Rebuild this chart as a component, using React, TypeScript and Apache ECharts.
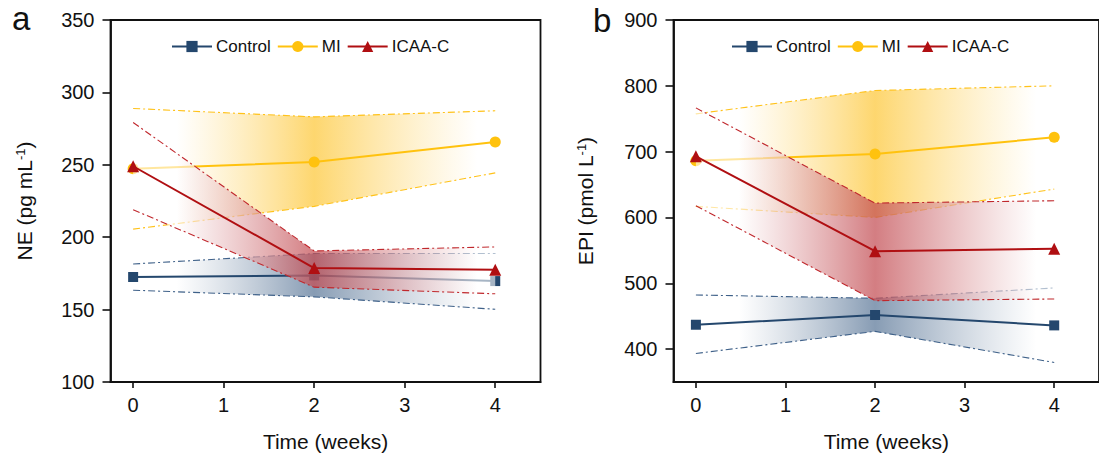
import React, { useEffect, useRef } from "react";
import * as echarts from "echarts";

// ---------- data ----------
const weeks = [0, 2, 4];
const xTicks = [0, 1, 2, 3, 4];
const neTicks = [100, 150, 200, 250, 300, 350];
const epiTicks = [400, 500, 600, 700, 800, 900];
const groups = ["Control", "MI", "ICAA-C"];

// NE (pg mL-1)
const neControl = [172.5, 173.6, 169.7];
const neControlUpper = [181.5, 188.7, 188.7];
const neControlLower = [163.4, 158.8, 150.2];
const neMI = [247.2, 251.9, 265.7];
const neMIUpper = [288.9, 283.1, 287.3];
const neMILower = [205.6, 221.3, 244.4];
const neICAA = [249.0, 178.7, 177.5];
const neICAAUpper = [279.2, 190.5, 193.3];
const neICAALower = [219.0, 165.5, 160.9];

// EPI (pmol L-1)
const epiControl = [437.0, 451.8, 436.0];
const epiControlUpper = [482.2, 477.2, 492.9];
const epiControlLower = [393.4, 426.9, 379.7];
const epiMI = [686.3, 696.4, 721.8];
const epiMIUpper = [757.4, 792.9, 800.0];
const epiMILower = [616.8, 600.0, 643.1];
const epiICAA = [692.9, 548.7, 552.3];
const epiICAAUpper = [766.5, 621.8, 625.4];
const epiICAALower = [617.8, 473.6, 476.1];

// ---------- styles ----------
const FONT = "'Liberation Sans', Arial, Helvetica, sans-serif";
const lineColors: Record<string, string> = {
  Control: "#24476d",
  MI: "#ffc20e",
  "ICAA-C": "#b00f12",
};
const dashColors: Record<string, string> = {
  Control: "#3f6189",
  MI: "#ffc21a",
  "ICAA-C": "#c0282d",
};
const bandCenter: Record<string, string> = {
  Control: "rgba(105,131,161,0.8)",
  MI: "rgba(253,203,70,0.78)",
  "ICAA-C": "rgba(196,80,86,0.74)",
};
const symbols: Record<string, string> = {
  Control: "rect",
  MI: "circle",
  "ICAA-C": "triangle",
};
const symbolSizes: Record<string, number> = {
  Control: 10,
  MI: 11,
  "ICAA-C": 12,
};

function bandGradient(name: string) {
  return new echarts.graphic.LinearGradient(0, 0, 1, 0, [
    { offset: 0, color: "rgba(255,255,255,0.6)" },
    { offset: 0.12, color: "rgba(255,255,255,0.6)" },
    { offset: 0.5, color: bandCenter[name] },
    { offset: 0.95, color: "rgba(255,255,255,0.6)" },
    { offset: 1, color: "rgba(255,255,255,0.6)" },
  ]);
}

function groupSeries(
  name: string,
  mean: number[],
  upper: number[],
  lower: number[],
  axisIdx: number,
  zBase: number
) {
  const pair = (arr: number[]) => weeks.map((w, i) => [w, arr[i]]);
  const dash = {
    color: dashColors[name],
    width: 1.1,
    type: [7, 3, 2, 3],
  };
  return [
    {
      type: "custom",
      name: name + " band",
      xAxisIndex: axisIdx,
      yAxisIndex: axisIdx,
      z: zBase,
      silent: true,
      data: [[weeks[1], mean[1]]],
      renderItem: (_params: any, api: any) => {
        const pts: number[][] = [];
        for (let i = 0; i < weeks.length; i++) pts.push(api.coord([weeks[i], upper[i]]));
        for (let i = weeks.length - 1; i >= 0; i--) pts.push(api.coord([weeks[i], lower[i]]));
        return {
          type: "polygon",
          shape: { points: pts },
          style: { fill: bandGradient(name), stroke: "none" },
        };
      },
    },
    {
      type: "line",
      name: name + " upper",
      xAxisIndex: axisIdx,
      yAxisIndex: axisIdx,
      z: zBase + 1,
      silent: true,
      symbol: "none",
      data: pair(upper),
      lineStyle: dash,
    },
    {
      type: "line",
      name: name + " lower",
      xAxisIndex: axisIdx,
      yAxisIndex: axisIdx,
      z: zBase + 1,
      silent: true,
      symbol: "none",
      data: pair(lower),
      lineStyle: dash,
    },
    {
      type: "line",
      name: name,
      xAxisIndex: axisIdx,
      yAxisIndex: axisIdx,
      z: zBase + 2,
      symbol: symbols[name],
      symbolSize: symbolSizes[name],
      showSymbol: true,
      data: pair(mean),
      lineStyle: { color: lineColors[name], width: 2 },
      itemStyle: { color: lineColors[name] },
    },
  ];
}

function xAxis(gridIndex: number) {
  return {
    type: "value",
    gridIndex,
    min: -0.25,
    max: 4.5,
    name: "Time (weeks)",
    nameLocation: "middle",
    nameGap: 49,
    nameTextStyle: { fontSize: 21, color: "#111", fontFamily: FONT },
    splitLine: { show: false },
    axisLine: { show: true, onZero: false, lineStyle: { color: "#111", width: 1.8 } },
    axisTick: {
      show: true,
      inside: false,
      length: 6,
      customValues: xTicks,
      lineStyle: { color: "#111", width: 1.6 },
    },
    axisLabel: {
      customValues: xTicks,
      fontSize: 20,
      color: "#111",
      margin: 13,
      fontFamily: FONT,
    },
  };
}

function yAxis(
  gridIndex: number,
  min: number,
  max: number,
  ticks: number[],
  label: string,
  nameGap: number
) {
  return {
    type: "value",
    gridIndex,
    min,
    max,
    name: label,
    nameLocation: "middle",
    nameGap,
    nameRotate: 90,
    nameTextStyle: {
      fontSize: 21,
      color: "#111",
      fontFamily: FONT,
      rich: {
        sup: { fontSize: 13, color: "#111", fontFamily: FONT, verticalAlign: "top", padding: [0, 0, 9, 0] },
      },
    },
    splitLine: { show: false },
    axisLine: { show: true, onZero: false, lineStyle: { color: "#111", width: 1.8 } },
    axisTick: {
      show: true,
      inside: false,
      length: 8,
      customValues: ticks,
      lineStyle: { color: "#111", width: 1.6 },
    },
    axisLabel: {
      customValues: ticks,
      fontSize: 20,
      color: "#111",
      margin: 16,
      fontFamily: FONT,
    },
  };
}

function legend(left: number) {
  return {
    data: groups,
    left,
    top: 33,
    orient: "horizontal",
    itemWidth: 40,
    itemHeight: 14,
    itemGap: 6,
    selectedMode: false,
    textStyle: { fontSize: 17, color: "#111", fontFamily: FONT, padding: [0, 0, 0, -1] },
  };
}

export default function App() {
  const ref = useRef<HTMLDivElement>(null);
  useEffect(() => {
    if (!ref.current) return;
    const chart = echarts.init(ref.current, undefined, { renderer: "svg" });
    const option: any = {
      animation: false,
      backgroundColor: "#fff",
      textStyle: { fontFamily: FONT },
      grid: [
        { left: 110.5, top: 20, width: 430, height: 362, show: true, borderColor: "#111", borderWidth: 1.8, backgroundColor: "transparent" },
        { left: 673.5, top: 20, width: 431, height: 362, show: true, borderColor: "#111", borderWidth: 1.8, backgroundColor: "transparent" },
      ],
      xAxis: [xAxis(0), xAxis(1)],
      yAxis: [
        yAxis(0, 100, 350, neTicks, "NE (pg mL{sup|-1})", 75),
        yAxis(1, 350, 900, epiTicks, "EPI (pmol L{sup|-1})", 77),
      ],
      legend: [legend(166), legend(726)],
      graphic: [
        { type: "text", left: 12, top: 2, style: { text: "a", fontSize: 33, fill: "#111", fontFamily: FONT } },
        { type: "text", left: 593, top: 4, style: { text: "b", fontSize: 33, fill: "#111", fontFamily: FONT } },
      ],
      series: [
        ...groupSeries("Control", neControl, neControlUpper, neControlLower, 0, 2),
        ...groupSeries("MI", neMI, neMIUpper, neMILower, 0, 5),
        ...groupSeries("ICAA-C", neICAA, neICAAUpper, neICAALower, 0, 8),
        ...groupSeries("Control", epiControl, epiControlUpper, epiControlLower, 1, 2),
        ...groupSeries("MI", epiMI, epiMIUpper, epiMILower, 1, 5),
        ...groupSeries("ICAA-C", epiICAA, epiICAAUpper, epiICAALower, 1, 8),
      ],
    };
    chart.setOption(option);
    return () => chart.dispose();
  }, []);
  return (
    <div
      ref={ref}
      style={{ position: "fixed", left: 0, top: 0, width: 1099, height: 459, background: "#fff" }}
    />
  );
}
